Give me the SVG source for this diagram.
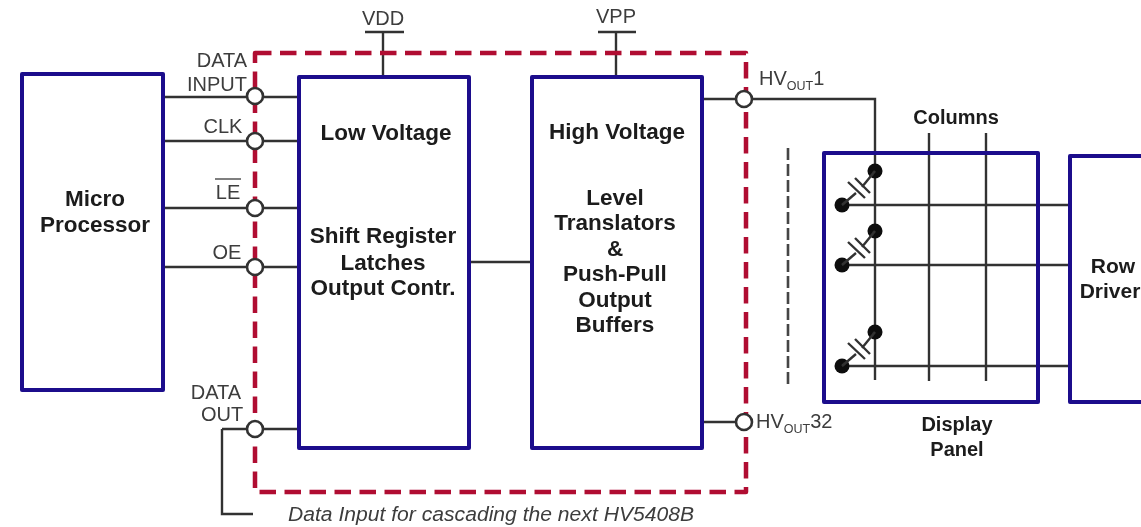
<svg xmlns="http://www.w3.org/2000/svg" width="1141" height="527" viewBox="0 0 1141 527">
<defs><filter id="soft" filterUnits="userSpaceOnUse" x="-10" y="-10" width="1161" height="547"><feGaussianBlur stdDeviation="0.5"/></filter></defs>
<style>
text{font-family:"Liberation Sans",Arial,sans-serif;fill:#2a2a2a;text-anchor:middle}
.b{font-weight:bold;font-size:22.5px;fill:#1a1a1a}
.m{font-weight:bold;font-size:20px;fill:#1a1a1a}
.l{font-size:20px;fill:#3c3c3c}
.box{fill:#fff;stroke:#1c0f8c;stroke-width:4;stroke-linejoin:round}
.w{fill:none;stroke:#333;stroke-width:2.4}
.p{fill:#fff;stroke:#333;stroke-width:2.6}
.d{fill:#111}
.dash{fill:none;stroke:#b01030;stroke-width:4.5;stroke-dasharray:16.5 8.5;stroke-linejoin:round}
</style>
<rect width="1141" height="527" fill="#fff"/>
<g filter="url(#soft)">
<g id="connectors">
<path class="w" d="M163 97H299M163 141H299M163 208H299M163 267H299M222 429H299M222 429V514H253"/>
<path class="w" d="M365 32H404M383 32V77M598 32H636M616 32V77M469 262H532M702 99H875V380M702 422H744"/>
<path class="w" d="M929 133V381M986 133V381"/>
<path class="w" d="M842 205H1070M842 265H1070M842 366H1070"/>
<path fill="none" stroke="#444" stroke-width="2.6" stroke-dasharray="12 4" d="M788 148V388"/>
</g>
<path id="boundary" class="dash" d="M255 53H746V492H255Z"/>
<g id="micro-processor"><rect class="box" x="22" y="74" width="141" height="316"/><text class="b" x="95" y="206">Micro</text><text class="b" x="95" y="232">Processor</text></g>
<g id="low-voltage"><rect class="box" x="299" y="77" width="170" height="371"/><text class="b" x="386" y="140">Low Voltage</text><text class="b" x="383" y="243">Shift Register</text><text class="b" x="383" y="270">Latches</text><text class="b" x="383" y="295">Output Contr.</text></g>
<g id="high-voltage"><rect class="box" x="532" y="77" width="170" height="371"/><text class="b" x="617" y="139">High Voltage</text><text class="b" x="615" y="205">Level</text><text class="b" x="615" y="230">Translators</text><text class="b" x="615" y="256">&amp;</text><text class="b" x="615" y="281">Push-Pull</text><text class="b" x="615" y="307">Output</text><text class="b" x="615" y="332">Buffers</text></g>
<g id="display-panel"><rect x="824" y="153" width="214" height="249" fill="none" stroke="#1c0f8c" stroke-width="4" stroke-linejoin="round"/><text class="m" x="956" y="124">Columns</text><text class="m" x="957" y="431">Display</text><text class="m" x="957" y="456">Panel</text></g>
<g id="row-driver"><path class="box" d="M1145 156H1070V402H1145"/><text class="b" x="1113" y="273" style="font-size:21px">Row</text><text class="b" x="1110" y="298" style="font-size:21px">Driver</text></g>
<g id="pins"><circle class="p" cx="255" cy="96" r="8"/><circle class="p" cx="255" cy="141" r="8"/><circle class="p" cx="255" cy="208" r="8"/><circle class="p" cx="255" cy="267" r="8"/><circle class="p" cx="255" cy="429" r="8"/><circle class="p" cx="744" cy="99" r="8"/><circle class="p" cx="744" cy="422" r="8"/></g>
<g id="pixels">
<g id="pixel-1"><circle class="d" cx="875" cy="171" r="7.5"/><circle class="d" cx="842" cy="205" r="7.5"/><path class="w" d="M842 205L856 193M862 187L875 171M848 182L865 198M855 178L870 193"/></g>
<g id="pixel-2"><circle class="d" cx="875" cy="231" r="7.5"/><circle class="d" cx="842" cy="265" r="7.5"/><path class="w" d="M842 265L856 253M862 247L875 231M848 242L865 258M855 238L870 253"/></g>
<g id="pixel-3"><circle class="d" cx="875" cy="332" r="7.5"/><circle class="d" cx="842" cy="366" r="7.5"/><path class="w" d="M842 366L856 354M862 348L875 332M848 343L865 359M855 339L870 354"/></g>
</g>
<g id="labels">
<text class="l" x="383" y="25">VDD</text><text class="l" x="616" y="23">VPP</text>
<text class="l" x="222" y="67">DATA</text><text class="l" x="217" y="91">INPUT</text><text class="l" x="223" y="133">CLK</text>
<text class="l" x="228" y="199">LE</text><path d="M215 179H241" stroke="#555" stroke-width="1.5"/>
<text class="l" x="227" y="259">OE</text><text class="l" x="216" y="399">DATA</text><text class="l" x="222" y="421">OUT</text>
<text class="l" x="759" y="85" style="text-anchor:start">HV<tspan font-size="12.5" dy="5">OUT</tspan><tspan dy="-5">1</tspan></text>
<text class="l" x="756" y="428" style="text-anchor:start">HV<tspan font-size="12.5" dy="5">OUT</tspan><tspan dy="-5">32</tspan></text>
<text x="288" y="521" style="text-anchor:start;font-style:italic;font-size:19.5px;fill:#3c3c3c" textLength="406" lengthAdjust="spacingAndGlyphs">Data Input for cascading the next HV5408B</text>
</g>
</g>
</svg>
